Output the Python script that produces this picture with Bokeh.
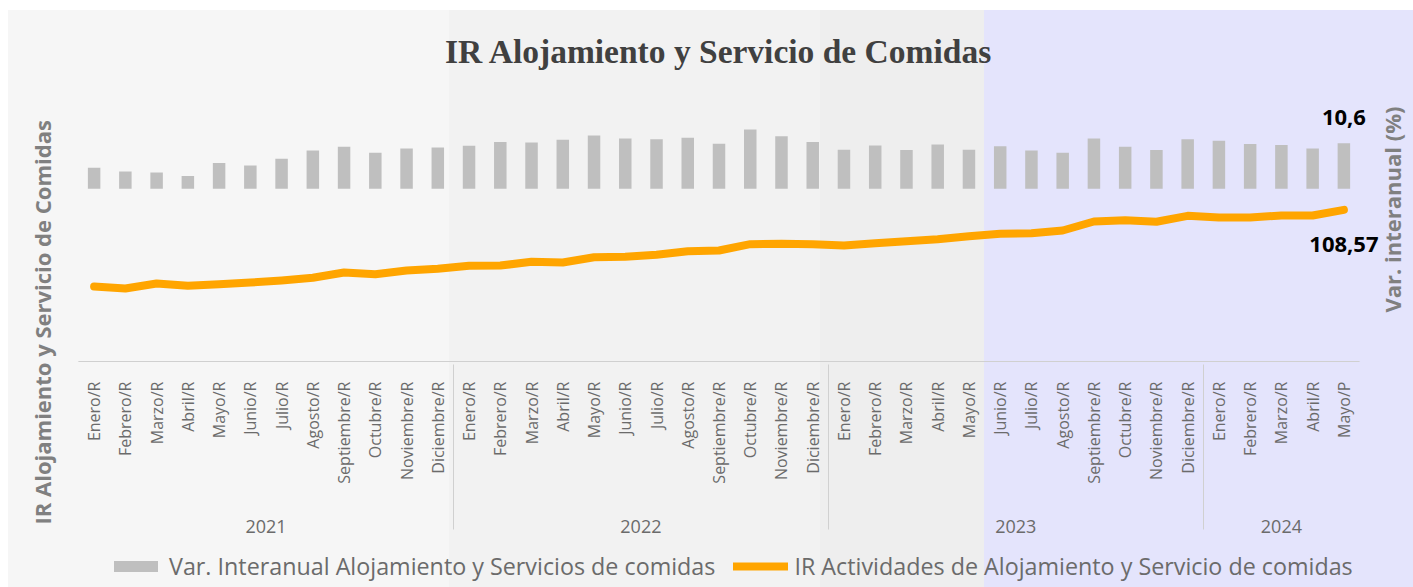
import math
from bokeh.plotting import figure
from bokeh.layouts import column
from bokeh.models import (FactorRange, Range1d, Legend, LegendItem,
                          ColumnDataSource, Title, Label, BoxAnnotation)
from bokeh.embed import file_html
from bokeh.resources import INLINE
from bokeh.core.properties import value

# ---------------- data ----------------
years = (["2021"] * 12) + (["2022"] * 12) + (["2023"] * 12) + (["2024"] * 5)
months = [
    "Enero/R", "Febrero/R", "Marzo/R", "Abril/R", "Mayo/R", "Junio/R",
    "Julio/R", "Agosto/R", "Septiembre/R", "Octubre/R", "Noviembre/R", "Diciembre/R",
    "Enero/R", "Febrero/R", "Marzo/R", "Abril/R", "Mayo/R", "Junio/R",
    "Julio/R", "Agosto/R", "Septiembre/R", "Octubre/R", "Noviembre/R", "Diciembre/R",
    "Enero/R", "Febrero/R", "Marzo/R", "Abril/R", "Mayo/R", "Junio/R",
    "Julio/R", "Agosto/R", "Septiembre/R", "Octubre/R", "Noviembre/R", "Diciembre/R",
    "Enero/R", "Febrero/R", "Marzo/R", "Abril/R", "Mayo/P",
]
var_interanual = [
    4.9, 4.0, 3.8, 3.0, 6.0, 5.4, 7.0, 8.9, 9.8, 8.4, 9.4, 9.6,
    10.0, 10.9, 10.8, 11.4, 12.4, 11.7, 11.5, 11.9, 10.5, 13.8, 12.2, 10.9,
    9.1, 10.1, 9.0, 10.3, 9.1, 9.9, 8.9, 8.4, 11.7, 9.8, 9.0, 11.5,
    11.2, 10.4, 10.2, 9.4, 10.6,
]
ir_indice = [
    78.37, 77.60, 79.56, 78.65, 79.28, 79.95, 80.74, 81.80, 83.89, 83.22, 84.67, 85.34,
    86.52, 86.64, 88.10, 87.82, 89.91, 90.07, 90.85, 92.27, 92.55, 95.03, 95.18, 95.03,
    94.51, 95.42, 96.21, 97.00, 98.18, 99.12, 99.36, 100.42, 103.96, 104.48, 103.85, 106.21,
    105.54, 105.54, 106.33, 106.33, 108.57,
]
bar_name = "Var. Interanual Alojamiento y Servicios de comidas"
line_name = "IR Actividades de Alojamiento y Servicio de comidas"
title_text = "IR Alojamiento y Servicio de Comidas"
left_title = "IR Alojamiento y Servicio de Comidas"
right_title = "Var. interanual (%)"

# year group labels sit a little lower, as in the reference
factors = [("\n" + y, m) for y, m in zip(years, months)]


def fmt(v, d):
    return f"{v:.{d}f}".replace(".", ",")


GRAY_TXT = "#6b6b6b"
AX_TITLE = "#808080"
AXIS_LINE = "#d0d0d0"
BAR_COLOR = "#bfbfbf"
LINE_COLOR = "#ffa500"
BANDS = ("linear-gradient(to right, #ffffff 0px, #ffffff 8px, #f6f6f6 8px, #f6f6f6 449px, "
         "#f2f2f2 449px, #f2f2f2 820px, #eeeeee 820px, #eeeeee 984px, "
         "#e4e4fc 984px, #e4e4fc 100%)")

W = 1413
H_MAIN = 545
H_LEG = 42
Y_MAIN = (48.85, 159.48)

xr = FactorRange(*factors, factor_padding=0, group_padding=0,
                 subgroup_padding=0, range_padding=0.704,
                 range_padding_units="absolute")

p = figure(
    x_range=xr,
    y_range=Range1d(*Y_MAIN),
    width=W, height=H_MAIN,
    output_backend="svg", toolbar_location=None,
    y_axis_location=None,
    min_border_left=56, min_border_right=32,
    min_border_top=80, min_border_bottom=H_MAIN - 361,
    title=title_text,
)
p.extra_y_ranges = {"bars": Range1d(-40.16, 25.19)}
p.xgrid.visible = False
p.ygrid.visible = False
p.outline_line_color = None
p.background_fill_color = None
p.border_fill_color = None
p.styles = {"background": "linear-gradient(to bottom, #ffffff 0px, #ffffff 10px, "
                          "transparent 10px), " + BANDS}

# title
p.title.align = "center"
p.title.text_font = "Liberation Serif"
p.title.text_font_size = "33.5px"
p.title.text_font_style = "bold"
p.title.text_color = "#404040"
p.title.standoff = 21

# x axis (categorical, nested)
ax = p.xaxis[0]
ax.bounds = (0, len(factors))
ax.axis_line_color = AXIS_LINE
ax.major_tick_line_color = None
ax.minor_tick_line_color = None
ax.major_label_orientation = math.pi / 2
ax.major_label_standoff = 14
ax.major_label_text_font = "Open Sans"
ax.major_label_text_font_size = "16px"
ax.major_label_text_color = GRAY_TXT
ax.group_text_font = "Open Sans"
ax.group_text_font_size = "18px"
ax.group_text_font_style = "normal"
ax.group_text_color = GRAY_TXT
ax.group_text_line_height = 0.57
ax.group_label_orientation = "horizontal"
ax.separator_line_color = AXIS_LINE
ax.separator_line_width = 1

# outer borders of the category axis box (left and right ends)
for xv in (0, len(factors)):
    p.add_layout(BoxAnnotation(left=xv - 0.01, right=xv + 0.01,
                               top=Y_MAIN[0], bottom=-21.23,
                               fill_alpha=0, line_color=AXIS_LINE,
                               line_width=1), "below")

# left axis title (side-panel title, starting low like the reference)
p.add_layout(Title(text=left_title, align="left", offset=-163, standoff=0,
                   text_font="Open Sans", text_font_size="22px",
                   text_font_style="bold", text_color=AX_TITLE), "left")

# right axis title (bars scale side)
p.add_layout(Label(x=42.056, y=108.69, text=right_title, angle=math.pi / 2,
                   text_align="center", text_baseline="middle",
                   text_font="Open Sans", text_font_size="22px",
                   text_font_style="bold", text_color=AX_TITLE), "right")

bars = p.vbar(x=factors, top=var_interanual, bottom=0, width=0.4,
              fill_color=BAR_COLOR, line_color=None, y_range_name="bars")
line = p.line(x=factors, y=ir_indice, line_color=LINE_COLOR, line_width=8,
              line_cap="round", line_join="round")

# data labels for last values
lbl_bar = ColumnDataSource(dict(x=[factors[-1]], y=[var_interanual[-1]],
                                t=[fmt(var_interanual[-1], 1)]))
p.text(x="x", y="y", text="t", source=lbl_bar, y_range_name="bars",
       text_align="center", text_baseline="bottom", y_offset=-18,
       text_font=value("Open Sans"), text_font_size="22px",
       text_font_style="bold", text_color="black")
lbl_line = ColumnDataSource(dict(x=[factors[-1]], y=[ir_indice[-1]],
                                 t=[fmt(ir_indice[-1], 2)]))
p.text(x="x", y="y", text="t", source=lbl_line,
       text_align="center", text_baseline="top", y_offset=27,
       text_font=value("Open Sans"), text_font_size="22px",
       text_font_style="bold", text_color="black")

# ---------------- legend strip ----------------
p2 = figure(width=W, height=H_LEG, x_range=xr, y_range=Range1d(1000, 1001),
            output_backend="svg", toolbar_location=None,
            x_axis_location=None, y_axis_location=None, min_border=0)
p2.xgrid.visible = False
p2.ygrid.visible = False
p2.outline_line_color = None
p2.background_fill_color = None
p2.border_fill_color = None
p2.styles = {"background": BANDS}
# same series (out of view here) so the legend shows their glyphs
leg_bar = p2.vbar(x=factors, top=var_interanual, bottom=0, width=0.4,
                  fill_color=BAR_COLOR, line_color=None)
leg_line = p2.line(x=factors, y=ir_indice, line_color=LINE_COLOR, line_width=8,
                   line_cap="round")
legend = Legend(
    items=[LegendItem(label=bar_name, renderers=[leg_bar]),
           LegendItem(label=line_name, renderers=[leg_line])],
    orientation="horizontal", location=(52, 5),
    label_text_font="Open Sans", label_text_font_size="23.3px",
    label_text_color=GRAY_TXT, glyph_width=55, glyph_height=14,
    spacing=18, label_standoff=6, background_fill_alpha=0,
    border_line_color=None, padding=0, margin=0,
)
p2.add_layout(legend, "center")

layout = column(p, p2, spacing=0)
open("out.html", "w").write(file_html(layout, INLINE))
